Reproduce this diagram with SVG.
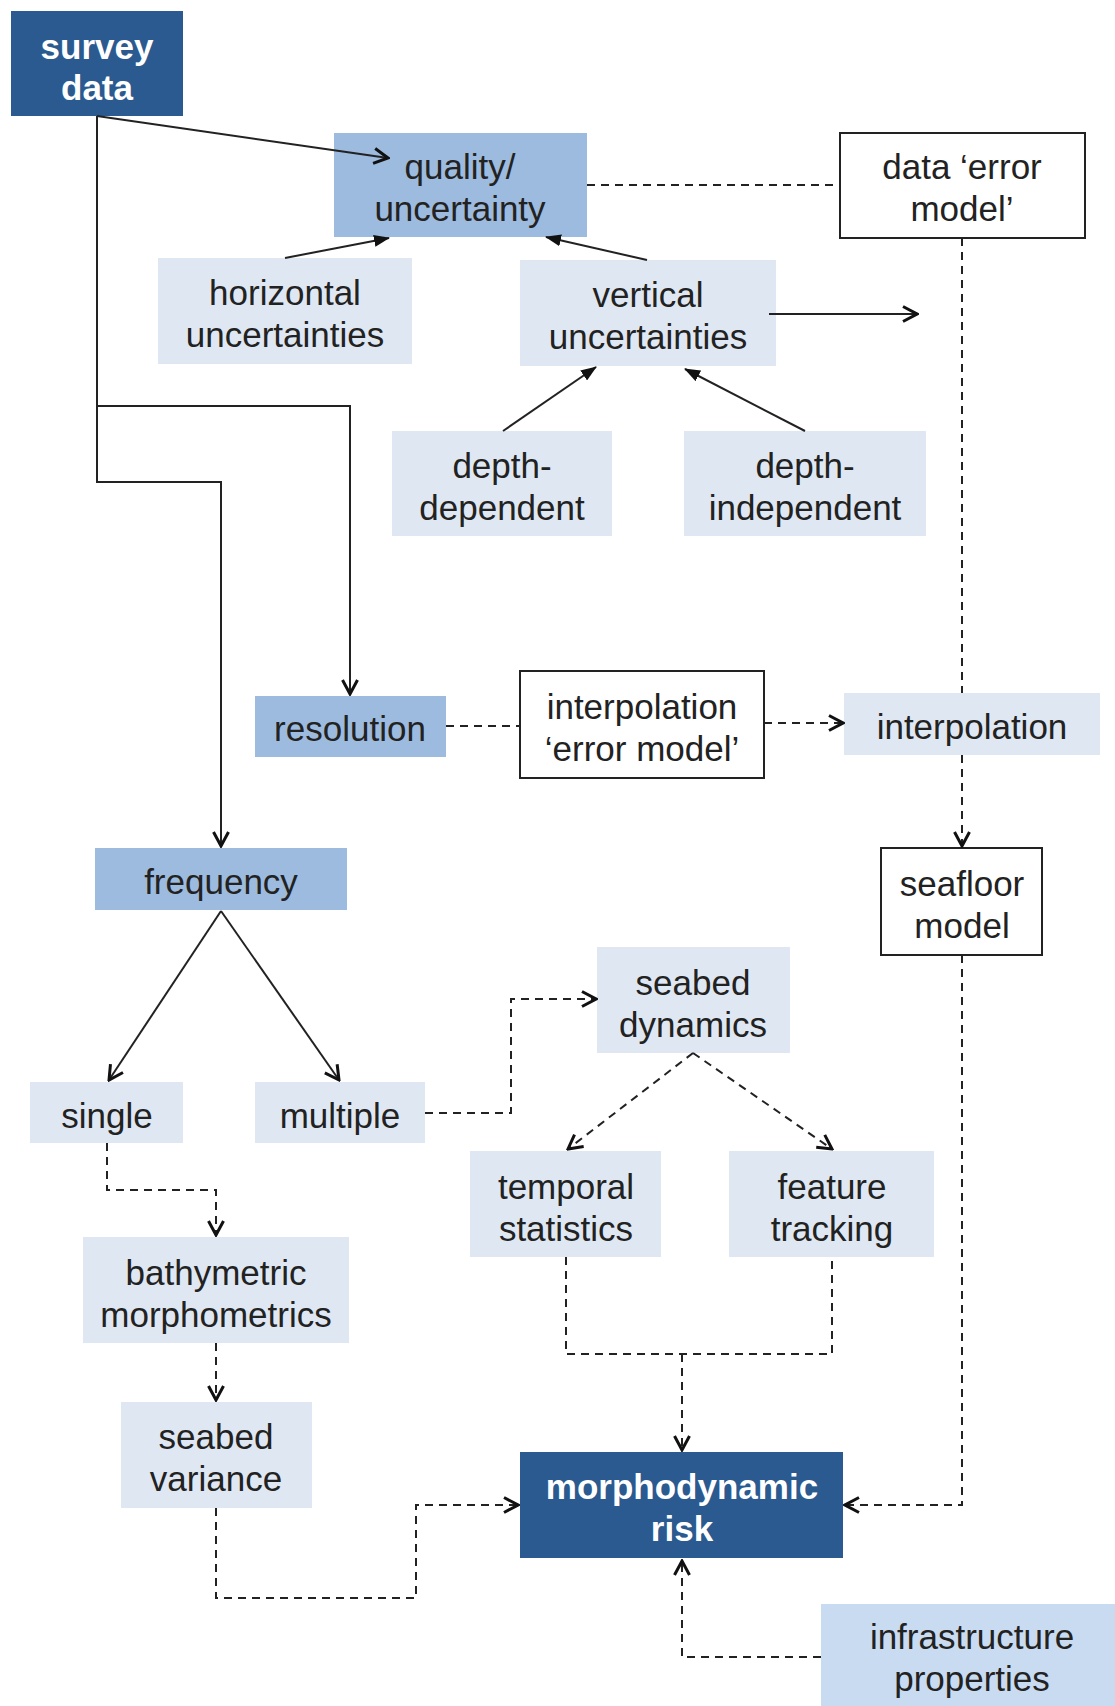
<svg xmlns="http://www.w3.org/2000/svg" width="1115" height="1706" viewBox="0 0 1115 1706">
<style>
text{font-family:"Liberation Sans",Arial,sans-serif;font-size:35px;fill:#222;text-anchor:middle}
.b{font-weight:bold;fill:#fff}
.dark{fill:#2a5a8f}
.mid{fill:#9dbbde}
.light{fill:#dfe8f2}
.infra{fill:#c9dbf0}
.outline{fill:#fff;stroke:#222;stroke-width:2}
.s{fill:none;stroke:#222;stroke-width:2}
.d{fill:none;stroke:#222;stroke-width:2;stroke-dasharray:8 6}
</style>
<defs>
<marker id="open" viewBox="0 0 20 20" refX="18" refY="10" markerWidth="20" markerHeight="20" markerUnits="userSpaceOnUse" orient="auto">
<path d="M4,2.5 L18,10 L4,17.5" fill="none" stroke="#111" stroke-width="3"/>
</marker>
<marker id="fill" viewBox="0 0 16 12" refX="15" refY="6" markerWidth="16" markerHeight="12" markerUnits="userSpaceOnUse" orient="auto">
<path d="M0,0 L16,6 L0,12 z" fill="#111"/>
</marker>
</defs>
<g id="survey-data"><rect class="dark" x="11" y="11" width="172" height="105"/><text class="b" x="97" y="59">survey</text><text class="b" x="97" y="100">data</text></g>
<g id="quality-uncertainty"><rect class="mid" x="334" y="133" width="253" height="104"/><text x="460" y="179">quality/</text><text x="460" y="221">uncertainty</text></g>
<g id="data-error-model"><rect class="outline" x="840" y="133" width="245" height="105"/><text x="962" y="179">data ‘error</text><text x="962" y="221">model’</text></g>
<g id="horizontal-uncertainties"><rect class="light" x="158" y="258" width="254" height="106"/><text x="285" y="305">horizontal</text><text x="285" y="347">uncertainties</text></g>
<g id="vertical-uncertainties"><rect class="light" x="520" y="260" width="256" height="106"/><text x="648" y="307">vertical</text><text x="648" y="349">uncertainties</text></g>
<g id="depth-dependent"><rect class="light" x="392" y="431" width="220" height="105"/><text x="502" y="478">depth-</text><text x="502" y="520">dependent</text></g>
<g id="depth-independent"><rect class="light" x="684" y="431" width="242" height="105"/><text x="805" y="478">depth-</text><text x="805" y="520">independent</text></g>
<g id="resolution"><rect class="mid" x="255" y="696" width="191" height="61"/><text x="350" y="741">resolution</text></g>
<g id="interpolation-error-model"><rect class="outline" x="520" y="671" width="244" height="107"/><text x="642" y="719">interpolation</text><text x="642" y="761">‘error model’</text></g>
<g id="interpolation"><rect class="light" x="844" y="693" width="256" height="62"/><text x="972" y="739">interpolation</text></g>
<g id="frequency"><rect class="mid" x="95" y="848" width="252" height="62"/><text x="221" y="894">frequency</text></g>
<g id="seafloor-model"><rect class="outline" x="881" y="848" width="161" height="107"/><text x="962" y="896">seafloor</text><text x="962" y="938">model</text></g>
<g id="seabed-dynamics"><rect class="light" x="597" y="947" width="193" height="106"/><text x="693" y="995">seabed</text><text x="693" y="1037">dynamics</text></g>
<g id="single"><rect class="light" x="30" y="1082" width="153" height="61"/><text x="107" y="1128">single</text></g>
<g id="multiple"><rect class="light" x="255" y="1082" width="170" height="61"/><text x="340" y="1128">multiple</text></g>
<g id="temporal-statistics"><rect class="light" x="470" y="1151" width="191" height="106"/><text x="566" y="1199">temporal</text><text x="566" y="1241">statistics</text></g>
<g id="feature-tracking"><rect class="light" x="729" y="1151" width="205" height="106"/><text x="832" y="1199">feature</text><text x="832" y="1241">tracking</text></g>
<g id="bathymetric-morphometrics"><rect class="light" x="83" y="1237" width="266" height="106"/><text x="216" y="1285">bathymetric</text><text x="216" y="1327">morphometrics</text></g>
<g id="seabed-variance"><rect class="light" x="121" y="1402" width="191" height="106"/><text x="216" y="1449">seabed</text><text x="216" y="1491">variance</text></g>
<g id="morphodynamic-risk"><rect class="dark" x="520" y="1452" width="323" height="106"/><text class="b" x="682" y="1499">morphodynamic</text><text class="b" x="682" y="1541">risk</text></g>
<g id="infrastructure-properties"><rect class="infra" x="821" y="1604" width="294" height="102"/><text x="972" y="1649">infrastructure</text><text x="972" y="1691">properties</text></g>
<g id="connectors">
<path class="s" d="M97,116 L388,158" marker-end="url(#open)"/>
<path class="s" d="M97,116 L97,482 L221,482 L221,846" marker-end="url(#open)"/>
<path class="s" d="M97,406 L350,406 L350,694" marker-end="url(#open)"/>
<path class="s" d="M285,258 L389,238" marker-end="url(#fill)"/>
<path class="s" d="M647,260 L546,237" marker-end="url(#fill)"/>
<path class="s" d="M769,314 L917,314" marker-end="url(#open)"/>
<path class="s" d="M503,431 L596,367" marker-end="url(#fill)"/>
<path class="s" d="M805,431 L685,369" marker-end="url(#fill)"/>
<path class="d" d="M587,185 L840,185"/>
<path class="d" d="M962,238 L962,693"/>
<path class="d" d="M962,755 L962,846" marker-end="url(#open)"/>
<path class="d" d="M962,955 L962,1505 L845,1505" marker-end="url(#open)"/>
<path class="d" d="M446,726 L520,726"/>
<path class="d" d="M764,723 L843,723" marker-end="url(#open)"/>
<path class="s" d="M221,911 L109,1080" marker-end="url(#open)"/>
<path class="s" d="M221,911 L339,1080" marker-end="url(#open)"/>
<path class="d" d="M425,1113 L511,1113 L511,999 L596,999" marker-end="url(#open)"/>
<path class="d" d="M693,1053 L568,1149" marker-end="url(#open)"/>
<path class="d" d="M693,1053 L832,1149" marker-end="url(#open)"/>
<path class="d" d="M107,1143 L107,1190 L216,1190 L216,1235" marker-end="url(#open)"/>
<path class="d" d="M216,1343 L216,1400" marker-end="url(#open)"/>
<path class="d" d="M216,1508 L216,1598 L416,1598 L416,1505 L518,1505" marker-end="url(#open)"/>
<path class="d" d="M566,1257 L566,1354 L832,1354 L832,1257"/>
<path class="d" d="M682,1354 L682,1450" marker-end="url(#open)"/>
<path class="d" d="M821,1657 L682,1657 L682,1561" marker-end="url(#open)"/>
</g>
</svg>
